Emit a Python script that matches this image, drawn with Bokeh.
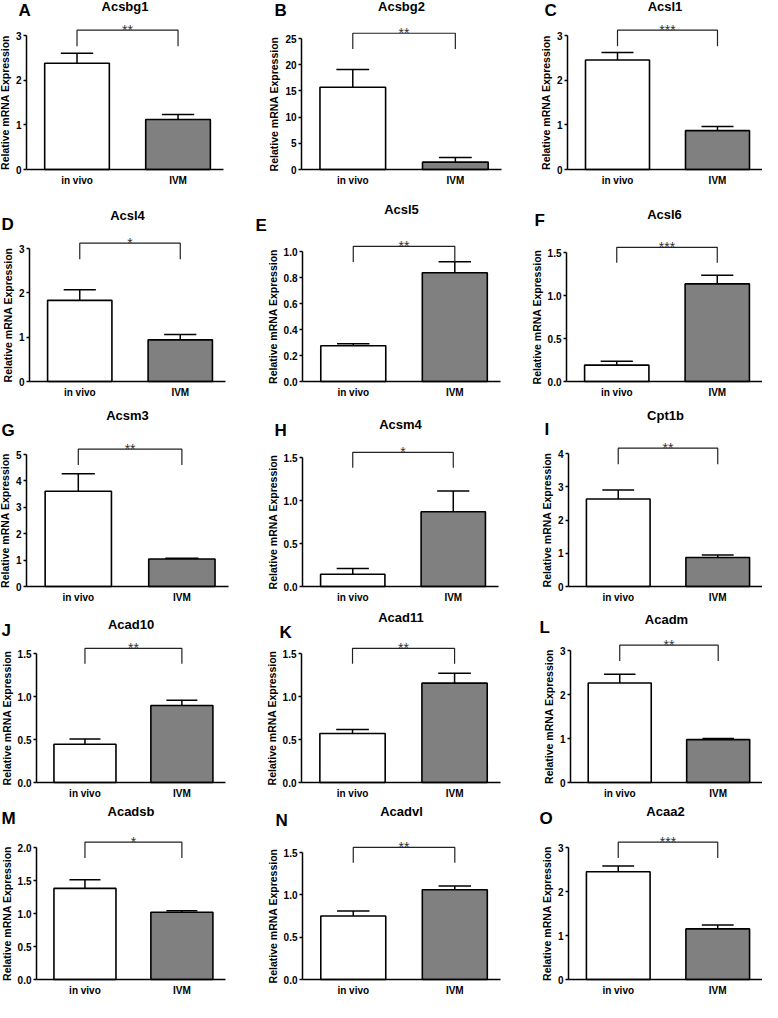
from bokeh.plotting import figure
from bokeh.layouts import row, column
from bokeh.models import Range1d, FixedTicker, Label, ColumnDataSource, LinearAxis, Grid
from bokeh.embed import file_html
from bokeh.resources import INLINE

# ---------------- data ----------------
genes = ["Acsbg1", "Acsbg2", "Acsl1", "Acsl4", "Acsl5", "Acsl6", "Acsm3", "Acsm4",
         "Cpt1b", "Acad10", "Acad11", "Acadm", "Acadsb", "Acadvl", "Acaa2"]
letters = ["A", "B", "C", "D", "E", "F", "G", "H", "I", "J", "K", "L", "M", "N", "O"]
groups = ["in vivo", "IVM"]
invivo_mean = [2.38, 15.7, 2.45, 1.83, 0.275, 0.19, 3.61, 0.143, 2.63, 0.445, 0.57, 2.26, 1.38, 0.75, 2.45]
invivo_sem = [0.22, 3.4, 0.17, 0.24, 0.015, 0.045, 0.66, 0.067, 0.27, 0.06, 0.045, 0.20, 0.13, 0.06, 0.13]
ivm_mean = [1.12, 1.4, 0.87, 0.94, 0.836, 1.135, 1.04, 0.87, 0.87, 0.895, 1.155, 0.975, 1.02, 1.06, 1.15]
ivm_sem = [0.11, 0.9, 0.09, 0.12, 0.085, 0.10, 0.03, 0.24, 0.08, 0.06, 0.115, 0.025, 0.02, 0.045, 0.09]
stars = ["**", "**", "***", "*", "**", "***", "**", "*", "**", "**", "**", "**", "*", "**", "***"]
yticks = [
    [0, 1, 2, 3], [0, 5, 10, 15, 20, 25], [0, 1, 2, 3],
    [0, 1, 2, 3], [0, 0.2, 0.4, 0.6, 0.8, 1.0], [0, 0.5, 1.0, 1.5],
    [0, 1, 2, 3, 4, 5], [0, 0.5, 1.0, 1.5], [0, 1, 2, 3, 4],
    [0, 0.5, 1.0, 1.5], [0, 0.5, 1.0, 1.5], [0, 1, 2, 3],
    [0, 0.5, 1.0, 1.5, 2.0], [0, 0.5, 1.0, 1.5], [0, 1, 2, 3],
]
ytick_labels = [
    ["0", "1", "2", "3"], ["0", "5", "10", "15", "20", "25"], ["0", "1", "2", "3"],
    ["0", "1", "2", "3"], ["0.0", "0.2", "0.4", "0.6", "0.8", "1.0"], ["0.0", "0.5", "1.0", "1.5"],
    ["0", "1", "2", "3", "4", "5"], ["0.0", "0.5", "1.0", "1.5"], ["0", "1", "2", "3", "4"],
    ["0.0", "0.5", "1.0", "1.5"], ["0.0", "0.5", "1.0", "1.5"], ["0", "1", "2", "3"],
    ["0.0", "0.5", "1.0", "1.5", "2.0"], ["0.0", "0.5", "1.0", "1.5"], ["0", "1", "2", "3"],
]
y_label = "Relative mRNA Expression"

# ---------------- layout (reference pixel positions) ----------------
row_top = [8, 198, 408, 612, 810]
row_bot = [198, 408, 612, 810, 1010]
frame_bot = [177, 389, 594, 790, 987]
col_left = [8, 258, 518]
col_right = [258, 518, 770]
axis_x = [34, 309, 575, 37, 310, 574, 34, 310, 576, 44, 309, 578, 44, 310, 576]
axis_end = [231, 509, 770, 233, 508, 770, 236, 506, 770, 233, 508, 770, 233, 508, 770]
axis_top = [43, 46, 43, 256, 259, 260, 462, 465, 461, 661, 661, 658, 855, 860, 855]
title_y = [14, 14, 14, 223, 217, 222, 423, 432, 423, 632, 625, 627, 819, 819, 819]
letter_x = [26, 282, 552, 9, 263, 542, 9, 282, 552, 9, 287, 547, 9, 283, 547]
letter_y = [18, 18, 18, 232, 233, 228, 438, 438, 437, 638, 640, 635, 826, 828, 826]

FONT = "Liberation Sans"
X0, X1 = 0.5, 2.45
BAR_W = 0.64

rows = []
figs_row = []
for i in range(15):
    r, c = i // 3, i % 3
    ymax = yticks[i][-1]
    W = col_right[c] - col_left[c]
    H = row_bot[r] - row_top[r]
    u = (axis_end[i] - axis_x[i]) / (X1 - X0)          # px per x unit
    v = (frame_bot[r] - axis_top[i]) / ymax            # px per y unit
    xs = X0 - (axis_x[i] - col_left[c]) / u
    xe = X1 + (col_right[c] - axis_end[i]) / u
    ys = -(row_bot[r] - frame_bot[r]) / v
    ye = (frame_bot[r] - row_top[r]) / v
    p = figure(width=W, height=H, x_range=Range1d(xs, xe), y_range=Range1d(ys, ye),
               toolbar_location=None, output_backend="svg",
               x_axis_location=None, y_axis_location=None, min_border=0)
    p.outline_line_color = None
    p.background_fill_color = "white"
    p.border_fill_color = "white"
    for g in p.select(type=Grid):
        g.visible = False

    src = ColumnDataSource(dict(
        x=[1, 2],
        top=[invivo_mean[i], ivm_mean[i]],
        err=[invivo_mean[i] + invivo_sem[i], ivm_mean[i] + ivm_sem[i]],
        color=["white", "#808080"],
    ))
    cap = BAR_W / 4
    p.segment(x0="x", y0="top", x1="x", y1="err", source=src, line_color="black", line_width=1.5)
    p.segment(x0=[1 - cap, 2 - cap], y0=src.data["err"], x1=[1 + cap, 2 + cap], y1=src.data["err"],
              line_color="black", line_width=1.5)
    p.vbar(x="x", top="top", width=BAR_W, bottom=0, source=src, fill_color="color",
           line_color="black", line_width=1.6)

    # significance bracket
    by = ymax * 1.04
    dy = ymax * 0.92
    p.line(x=[1, 1, 2, 2], y=[dy, by, by, dy], line_color="#222222", line_width=1.2)
    p.add_layout(Label(x=1.5, y=by, text=stars[i], text_align="center", text_baseline="alphabetic",
                       text_font=FONT, text_font_size="14px", text_color="#333333"))

    # gene title and panel letter (screen units, origin at bottom-left of the figure)
    p.add_layout(Label(x=(X0 + X1) / 2, y=row_bot[r] - title_y[i], x_units="data", y_units="screen",
                       text=genes[i], text_align="center", text_baseline="middle",
                       text_font=FONT, text_font_style="bold", text_font_size="13px", text_color="black"))
    p.add_layout(Label(x=letter_x[i] - col_left[c], y=row_bot[r] - letter_y[i],
                       x_units="screen", y_units="screen",
                       text=letters[i], text_align="left", text_baseline="middle",
                       text_font=FONT, text_font_style="bold", text_font_size="17px", text_color="black"))

    # axes
    xa = LinearAxis(fixed_location=0, bounds=(X0, X1))
    xa.ticker = FixedTicker(ticks=[1, 2])
    xa.major_label_overrides = {1: groups[0], 2: groups[1]}
    xa.major_tick_out = 0
    xa.major_tick_in = 0
    xa.minor_tick_out = 0
    xa.minor_tick_in = 0
    xa.axis_line_width = 1.5
    xa.axis_line_color = "black"
    xa.major_label_standoff = 5
    xa.major_label_text_font = FONT
    xa.major_label_text_font_style = "bold"
    xa.major_label_text_font_size = "10px"
    xa.major_label_text_color = "black"
    p.add_layout(xa, "below")

    ya = LinearAxis(fixed_location=X0, bounds=(0, ymax))
    ya.ticker = FixedTicker(ticks=yticks[i])
    ya.major_label_overrides = {t: s for t, s in zip(yticks[i], ytick_labels[i])}
    ya.major_tick_out = 3
    ya.major_tick_in = 0
    ya.minor_tick_out = 0
    ya.minor_tick_in = 0
    ya.axis_line_width = 1.5
    ya.major_tick_line_width = 1.5
    ya.axis_line_color = "black"
    ya.major_tick_line_color = "black"
    ya.major_label_standoff = 2
    ya.major_label_text_font = FONT
    ya.major_label_text_font_style = "bold"
    ya.major_label_text_font_size = "10px"
    ya.major_label_text_color = "black"
    ya.axis_label = y_label
    ya.axis_label_standoff = 2
    ya.axis_label_text_font = FONT
    ya.axis_label_text_font_style = "bold"
    ya.axis_label_text_font_size = "10.5px"
    ya.axis_label_text_color = "black"
    p.add_layout(ya, "left")

    figs_row.append(p)
    if c == 2:
        rows.append(row(*figs_row, spacing=0))
        figs_row = []

layout = column(*rows, spacing=0)
open("out.html", "w").write(file_html(layout, INLINE))
